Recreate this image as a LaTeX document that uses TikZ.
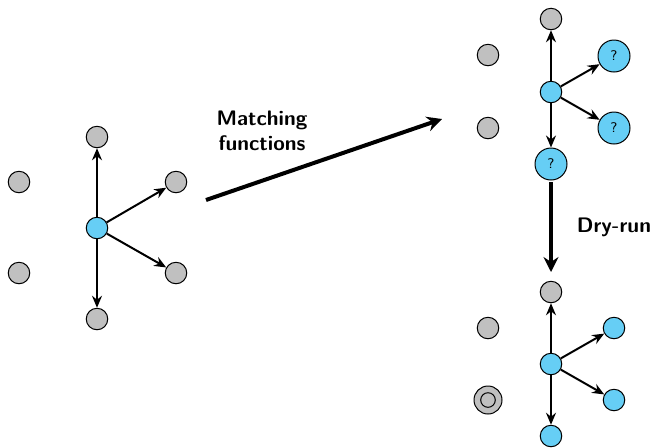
\documentclass[tikz,border=0pt]{standalone}
\usetikzlibrary{arrows.meta}
\definecolor{nodeblue}{RGB}{102,206,245}
\definecolor{nodegray}{RGB}{192,192,192}
\begin{document}
\begin{tikzpicture}[x=0.5pt,y=-0.5pt,
  vtx/.style={circle,draw=black,line width=0.5pt,inner sep=0pt},
  grayv/.style={vtx,fill=nodegray,minimum size=10.75pt},
  bluev/.style={vtx,fill=nodeblue,minimum size=10.75pt},
  qv/.style={vtx,fill=nodeblue,minimum size=16pt,font=\sffamily\fontsize{7}{8}\selectfont},
  edge/.style={-{Stealth[length=6pt,width=5pt,inset=2pt]},line width=1pt},
  bigarrow/.style={-{Stealth[length=7.5pt,width=7.5pt,inset=2.5pt]},line width=2pt},
  lbl/.style={font=\sffamily\bfseries\fontsize{10.5}{12.5}\selectfont,align=center}]
\useasboundingbox (0,0) rectangle (654,447);

% left graph
\node[grayv] (l1) at (19,182) {};
\node[grayv] (l2) at (19,273) {};
\node[bluev] (lc) at (97,228) {};
\node[grayv] (lt) at (97,137) {};
\node[grayv] (lb) at (97,319) {};
\node[grayv] (lu) at (176,182) {};
\node[grayv] (ld) at (176,273) {};
\draw[edge] (lc) -- (lt);
\draw[edge] (lc) -- (lb);
\draw[edge] (lc) -- (lu);
\draw[edge] (lc) -- (ld);

% top-right graph
\node[grayv] (a1) at (488,55) {};
\node[grayv] (a2) at (488,128) {};
\node[bluev] (ac) at (551,92) {};
\node[grayv] (at) at (551,19) {};
\node[qv] (ab) at (551,164) {?};
\node[qv] (au) at (614,56) {?};
\node[qv] (ad) at (614,128) {?};
\draw[edge] (ac) -- (at);
\draw[edge] (ac) -- (ab);
\draw[edge] (ac) -- (au);
\draw[edge] (ac) -- (ad);

% bottom-right graph
\node[grayv] (b1) at (488,328) {};
\node[vtx,fill=nodegray,minimum size=14pt] (b2) at (488,400) {};
\draw[line width=0.5pt] (b2.center) circle (7.3);
\node[bluev] (bc) at (551,364) {};
\node[grayv] (bt) at (551,292) {};
\node[bluev] (bb) at (551,436) {};
\node[bluev] (bu) at (614,328) {};
\node[bluev] (bd) at (614,400) {};
\draw[edge] (bc) -- (bt);
\draw[edge] (bc) -- (bb);
\draw[edge] (bc) -- (bu);
\draw[edge] (bc) -- (bd);

% transitions
\coordinate (m0) at (206,200);
\coordinate (m1) at (442,119);
\draw[bigarrow] (m0) -- (m1);
\node[lbl] (mlab) at (262,131) {Matching\\functions};

\coordinate (d0) at (551,182);
\coordinate (d1) at (551,272);
\draw[bigarrow] (d0) -- (d1);
\node[lbl] (dlab) at (614,227) {Dry-run};
\end{tikzpicture}
\end{document}
